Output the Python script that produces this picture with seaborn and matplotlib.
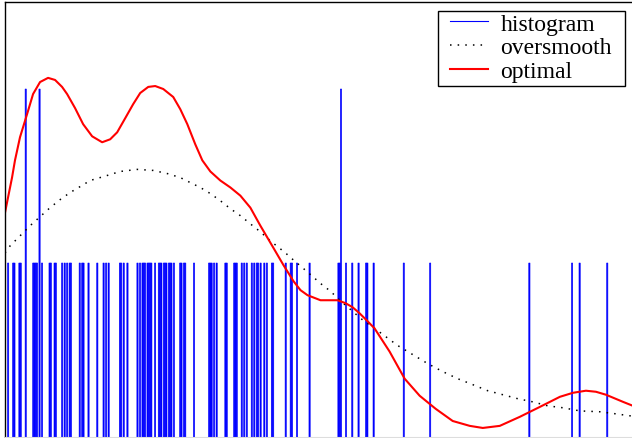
import numpy as np
import pandas as pd
import matplotlib
matplotlib.use("Agg")
import matplotlib.pyplot as plt
import seaborn as sns
from matplotlib.lines import Line2D
from matplotlib.patches import Rectangle

# sample values
samples = [
    0.53, 1.32, 1.59, 2.28, 2.50, 3.40, 3.40, 4.42, 4.67, 4.94, 5.15, 5.58, 5.58,
    5.85, 7.18, 7.34, 7.97, 8.13, 9.20, 9.57, 9.84, 10.37, 10.53, 11.96, 12.23,
    12.60, 13.29, 14.63, 15.79, 16.11, 16.48, 18.23, 18.45, 18.98, 19.41, 21.00,
    21.53, 21.80, 22.17, 22.38, 22.60, 22.85, 23.13, 23.40, 23.92, 24.45, 24.72,
    24.99, 25.36, 25.57, 25.79, 26.04, 26.32, 26.59, 26.84, 27.91, 28.18, 28.44,
    28.71, 30.03, 32.42, 32.70, 32.97, 33.22, 33.76, 35.09, 35.36, 36.41, 36.68,
    36.95, 37.75, 38.01, 38.55, 39.35, 39.60, 40.14, 40.40, 40.67, 41.20, 41.63,
    42.54, 42.70, 44.66, 45.45, 45.73, 46.41, 48.53, 53.00, 53.27, 53.48, 53.48,
    54.31, 55.22, 56.38, 57.50, 57.66, 58.69, 63.48, 67.70, 83.41, 90.35, 91.58,
    95.85,
]

# oversmoothed density
over_x = [
    0.0, 0.80, 2.39, 3.99, 5.58, 7.18, 8.77, 10.37, 11.96, 13.56, 16.27, 18.34,
    21.05, 23.60, 25.84, 27.91, 29.51, 31.10, 32.70, 34.29, 35.89, 37.48, 39.07,
    40.67, 42.26, 44.66, 45.93, 47.05, 48.17, 49.44, 50.56, 51.83, 52.95, 54.23,
    55.34, 56.62, 58.85, 60.13, 62.52, 64.91, 67.30, 69.70, 72.09, 74.48, 76.87,
    79.27, 81.66, 84.05, 86.44, 88.84, 91.55, 94.74, 97.29, 99.68,
]
over_y = [
    1.058, 1.098, 1.156, 1.214, 1.266, 1.318, 1.364, 1.405, 1.439, 1.474, 1.503,
    1.526, 1.538, 1.532, 1.514, 1.491, 1.462, 1.434, 1.399, 1.358, 1.312, 1.272,
    1.225, 1.179, 1.127, 1.058, 1.017, 0.983, 0.948, 0.908, 0.873, 0.838, 0.798,
    0.757, 0.723, 0.682, 0.624, 0.590, 0.526, 0.474, 0.422, 0.376, 0.335, 0.301,
    0.266, 0.243, 0.220, 0.202, 0.179, 0.168, 0.150, 0.145, 0.133, 0.121,
]

# optimal-bandwidth density
opt_x = [
    0.0, 0.48, 1.12, 1.59, 2.39, 3.51, 4.47, 5.58, 6.86, 7.97, 9.09, 9.89, 11.16,
    12.44, 13.88, 15.47, 16.75, 17.86, 19.14, 20.41, 21.53, 22.81, 23.92, 25.20,
    26.79, 27.91, 29.03, 30.30, 31.42, 32.70, 34.29, 35.89, 37.48, 39.07, 40.67,
    42.74, 44.34, 45.93, 47.05, 48.17, 50.24, 52.95, 54.23, 55.34, 56.46, 57.58,
    58.85, 61.24, 63.64, 66.03, 68.58, 71.29, 74.00, 76.08, 78.79, 81.98, 85.17,
    88.36, 90.43, 92.50, 94.10, 95.69, 98.41, 100.0,
]
opt_y = [
    1.289, 1.376, 1.491, 1.590, 1.723, 1.855, 1.971, 2.040, 2.064, 2.052, 2.012,
    1.971, 1.890, 1.798, 1.728, 1.694, 1.711, 1.751, 1.832, 1.913, 1.977, 2.012,
    2.017, 2.000, 1.954, 1.884, 1.798, 1.682, 1.590, 1.526, 1.474, 1.434, 1.387,
    1.318, 1.214, 1.087, 0.988, 0.896, 0.844, 0.815, 0.786, 0.786, 0.769, 0.746,
    0.711, 0.671, 0.624, 0.491, 0.335, 0.237, 0.162, 0.092, 0.064, 0.052, 0.064,
    0.116, 0.173, 0.231, 0.254, 0.266, 0.260, 0.243, 0.202, 0.179,
]

labels = ["histogram", "oversmooth", "optimal"]

df = pd.DataFrame({"x": samples})

fig = plt.figure(figsize=(6.32, 4.39), dpi=100)
ax = fig.add_axes([5 / 632, 1 / 439, 628 / 632, 435 / 439])

# very fine histogram (counts)
sns.histplot(data=df, x="x", binwidth=0.2, binrange=(0, 100), stat="count",
             color="blue", alpha=1, linewidth=0, ax=ax)
for bar in ax.patches:
    if bar.get_height() <= 0:
        bar.set_visible(False)
        continue
    bar.set_facecolor("blue")
    bar.set_edgecolor("blue")
    bar.set_linewidth(0.4)
    bar.set_snap(False)

sns.lineplot(x=over_x, y=over_y, sort=False, estimator=None, color="black",
             lw=1.1, linestyle=(0, (1, 4)), ax=ax)
sns.lineplot(x=opt_x, y=opt_y, sort=False, estimator=None, color="red",
             lw=1.5, ax=ax)

ax.set_xlim(0, 100)
ax.set_ylim(0, 2.5)
ax.set_xticks([])
ax.set_yticks([])
ax.set_xlabel("")
ax.set_ylabel("")
ax.spines["right"].set_visible(False)
ax.spines["bottom"].set_color("#dddddd")
for side in ("left", "top"):
    ax.spines[side].set_color("black")
    ax.spines[side].set_linewidth(1.0)

handles = [
    Line2D([], [], color="blue", lw=0.8),
    Line2D([], [], color="black", lw=1.1, linestyle=(0, (1, 4))),
    Line2D([], [], color="red", lw=1.5),
]
leg = ax.legend(handles, labels, loc="upper right",
                bbox_to_anchor=(612 / 632, 1 - 14 / 439),
                bbox_transform=fig.transFigure, borderaxespad=0,
                prop={"family": "Liberation Serif", "size": 17},
                handlelength=1.6, handletextpad=0.55, labelspacing=0.1,
                borderpad=0, frameon=False)

# legend frame: wider padding at the sides than at top and bottom
fig.canvas.draw()
bb = leg.get_window_extent()
to_fig = fig.transFigure.inverted()
x0, y0 = to_fig.transform((bb.x0 - 12, bb.y0 - 4))
x1, y1 = to_fig.transform((bb.x1 + 13, bb.y1 + 2))
fig.add_artist(Rectangle((x0, y0), x1 - x0, y1 - y0, transform=fig.transFigure,
                         facecolor="none", edgecolor="black", lw=1.0))

fig.savefig("out.png", dpi=100)
